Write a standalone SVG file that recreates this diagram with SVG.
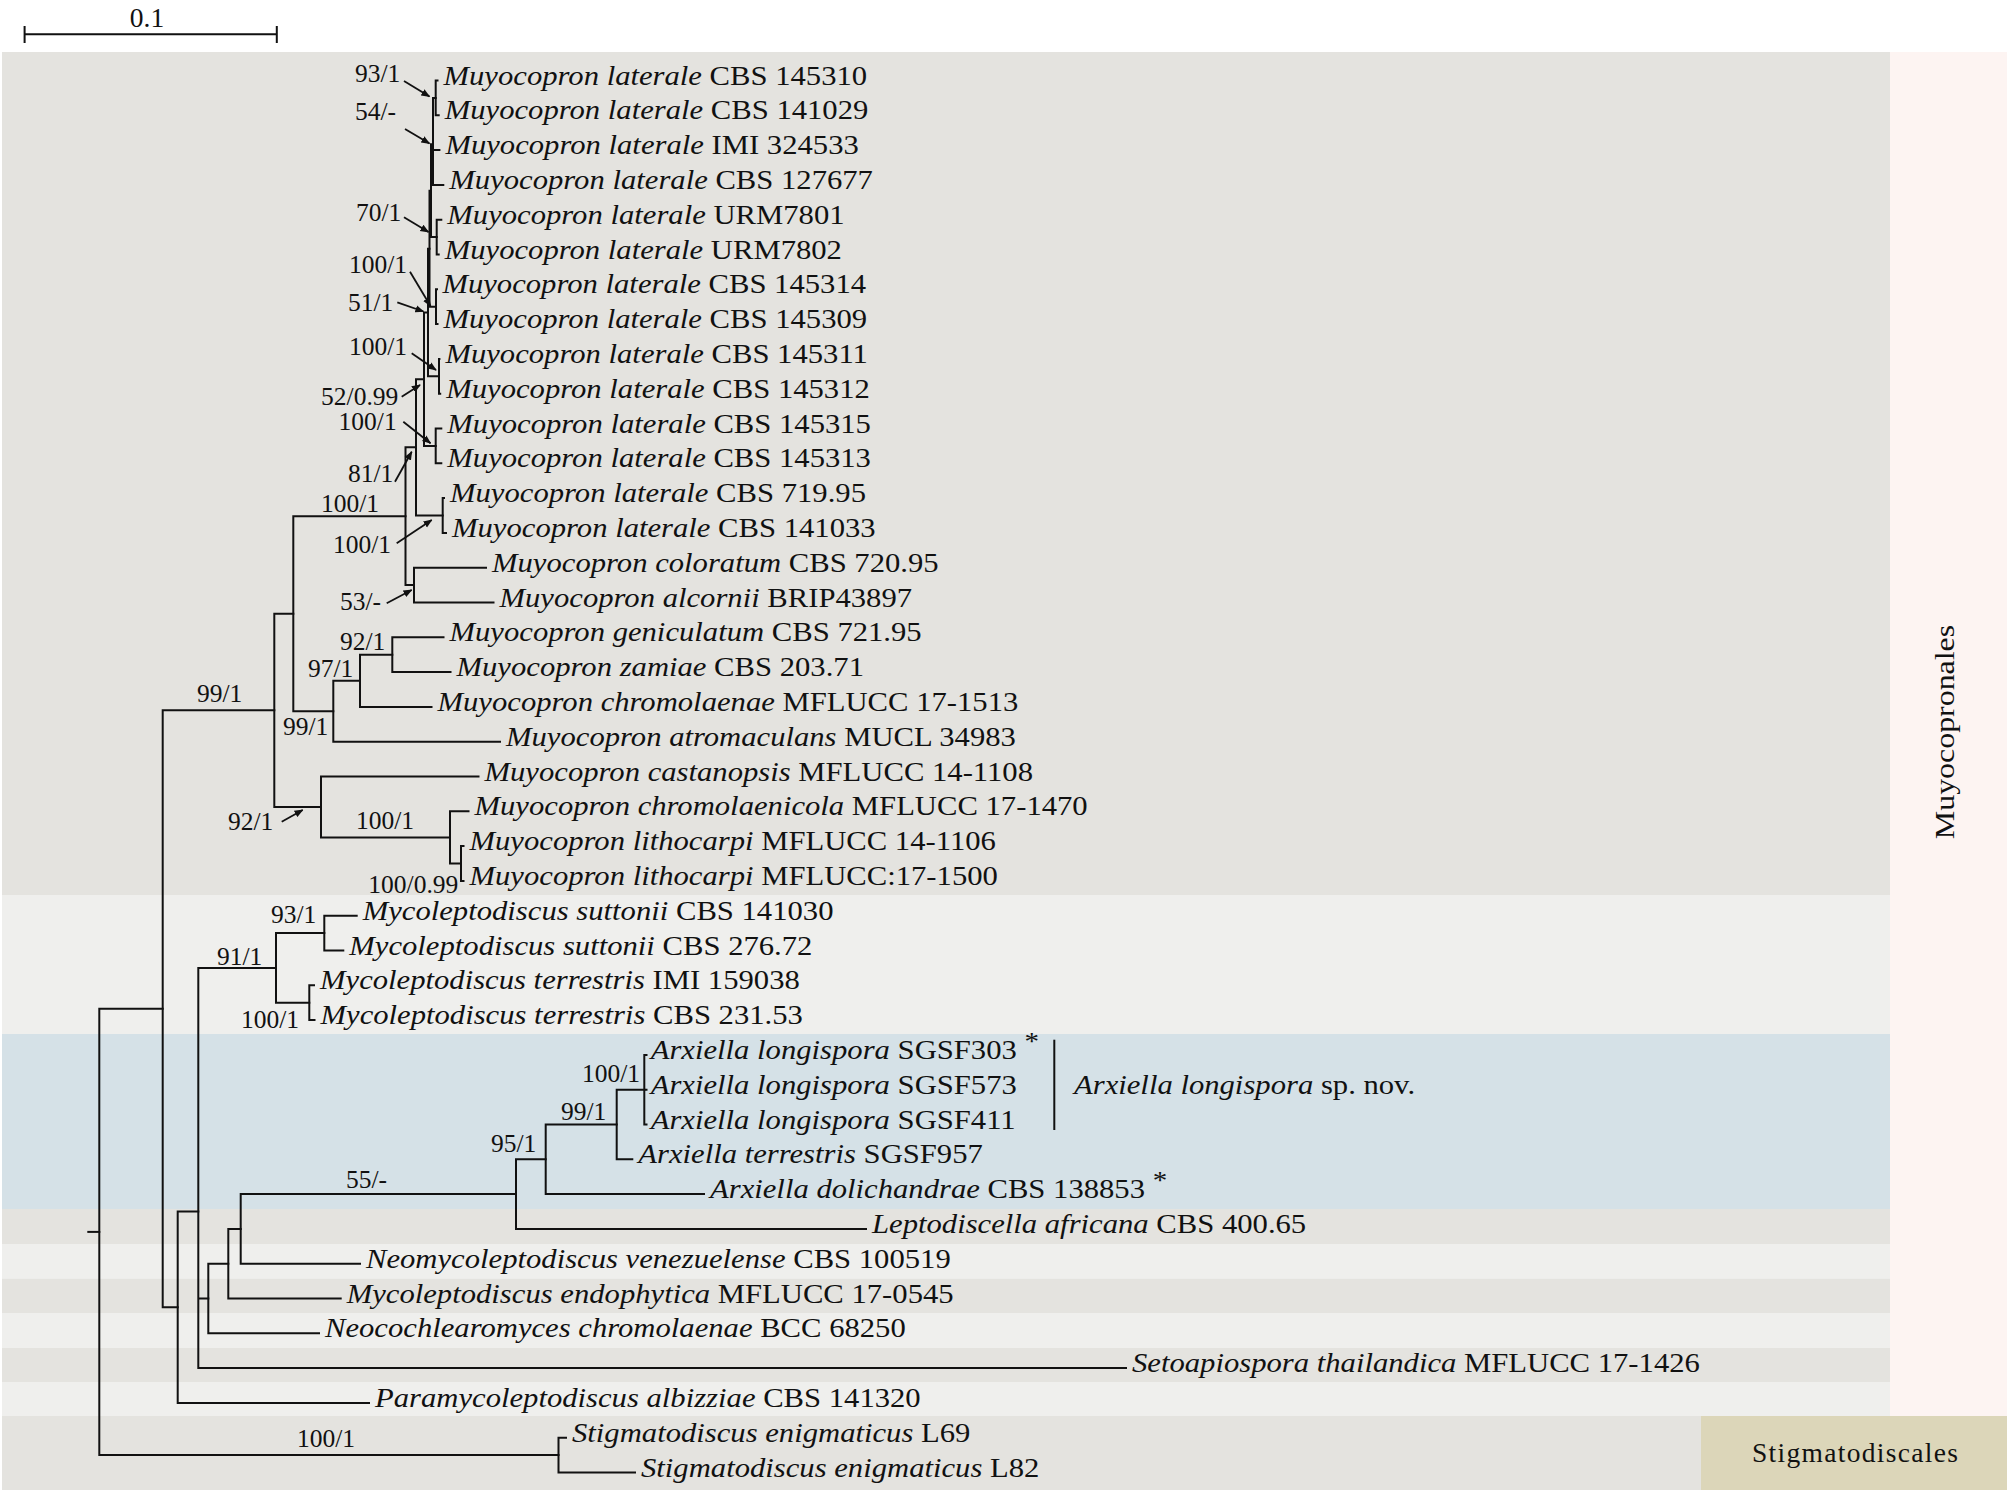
<svg xmlns="http://www.w3.org/2000/svg" width="2010" height="1493" viewBox="0 0 2010 1493">
<style>
.tx{font-family:"Liberation Serif","Times New Roman",serif;font-size:27.5px;fill:#111}
.i{font-style:italic}
.sv{font-family:"Liberation Serif","Times New Roman",serif;font-size:25.5px;fill:#111}
.br{fill:none;stroke:#111;stroke-width:2;stroke-linecap:square}
.ar{fill:none;stroke:#111;stroke-width:1.8;marker-end:url(#ah)}
.st{font-size:26px}
</style>
<defs>
<marker id="ah" viewBox="0 0 10 10" refX="9" refY="5" markerWidth="9" markerHeight="9" markerUnits="userSpaceOnUse" orient="auto">
<path d="M0,1 L10,5 L0,9 Z" fill="#111"/>
</marker>
</defs>
<rect width="2010" height="1493" fill="#ffffff"/>
<g id="bands">
<rect x="2" y="52" width="1888" height="843" fill="#e4e3df"/>
<rect x="2" y="895" width="1888" height="139" fill="#efefed"/>
<rect x="2" y="1034" width="1888" height="175" fill="#d5e1e7"/>
<rect x="2" y="1209" width="1888" height="35" fill="#e4e3df"/>
<rect x="2" y="1244" width="1888" height="34.5" fill="#efefed"/>
<rect x="2" y="1278.5" width="1888" height="34.5" fill="#e4e3df"/>
<rect x="2" y="1313" width="1888" height="35" fill="#efefed"/>
<rect x="2" y="1348" width="1888" height="34" fill="#e4e3df"/>
<rect x="2" y="1382" width="1888" height="34" fill="#efefed"/>
<rect x="2" y="1416" width="1699" height="74" fill="#e4e3df"/>
<rect x="1890" y="52" width="117" height="1364" fill="#fdf4f2"/>
</g>
<g id="order-muyocopronales">
<text class="tx" transform="translate(1954,732) rotate(-90) scale(1.16,1)" text-anchor="middle" font-size="28">Muyocopronales</text>
</g>
<g id="order-stigmatodiscales">
<rect x="1701" y="1416" width="306" height="74" fill="#dcd6b9"/>
<text class="tx" x="1752" y="1462" font-size="27" textLength="206" lengthAdjust="spacing">Stigmatodiscales</text>
</g>
<g id="scale-bar">
<path class="br" d="M24.6 34.3 H276.8 M24.6 27 V42 M276.8 27 V42"/>
<text class="tx" x="147" y="26.5" text-anchor="middle" font-size="27">0.1</text>
</g>
<g id="connectors">
<path class="br" d="M88.3 1231.9 H99.3"/>
<path class="br" d="M162.7 1008.75 H99.3 V1455.1 H558.5"/>
<path class="br" d="M274.3 710.3 H162.7 V1307.2 H177.7"/>
<path class="br" d="M293.3 613.7 H274.3 V806.95 H321"/>
<path class="br" d="M405.5 516.2 H293.3 V711.25 H333.3"/>
<path class="br" d="M416 447.35 H405.5 V585.1 H414"/>
<path class="br" d="M424 379.2 H416 V515.5 H442.7"/>
<path class="br" d="M428 312.5 H424 V445.9 H435.7"/>
<path class="br" d="M429.5 248.7 H428 V376.3 H439"/>
<path class="br" d="M431 190.7 H429.5 V306.7 H436"/>
<path class="br" d="M433 144.3 H431 V237.1 H436.7"/>
<path class="br" d="M435.7 97.9 H433 V184.9 H443.3 M433 150.1 H439.4"/>
<path class="br" d="M437.5 80.5 H435.7 V115.3 H438.7"/>
<path class="br" d="M441.3 219.7 H436.7 V254.5 H438.7"/>
<path class="br" d="M437 289.3 H436 V324.1 H437.5"/>
<path class="br" d="M439.4 358.9 H439 V393.7 H440.2"/>
<path class="br" d="M441.3 428.5 H435.7 V463.3 H441.3"/>
<path class="br" d="M444 498.1 H442.7 V532.9 H446"/>
<path class="br" d="M486 567.7 H414 V602.5 H493.5"/>
<path class="br" d="M360 680.8 H333.3 V741.7 H500"/>
<path class="br" d="M392.3 654.7 H360 V706.9 H431.5"/>
<path class="br" d="M443.5 637.3 H392.3 V672.1 H450.5"/>
<path class="br" d="M478.5 776.5 H321 V837.4 H450"/>
<path class="br" d="M468.5 811.3 H450 V863.5 H461"/>
<path class="br" d="M463.5 846.1 H461 V880.9 H463.5"/>
<path class="br" d="M198.3 1211.5 H177.7 V1402.9 H369"/>
<path class="br" d="M276 967.9 H198.3 V1368.1 H1126 M198.3 1298.5 H208.3"/>
<path class="br" d="M324.3 933.1 H276 V1002.7 H309.3"/>
<path class="br" d="M356.7 915.7 H324.3 V950.5 H343.3"/>
<path class="br" d="M314 985.3 H309.3 V1020.1 H314.5"/>
<path class="br" d="M228.3 1263.7 H208.3 V1333.3 H319"/>
<path class="br" d="M240.7 1228.9 H228.3 V1298.5 H340.7"/>
<path class="br" d="M516 1194.1 H240.7 V1263.7 H360"/>
<path class="br" d="M545.7 1159.3 H516 V1228.9 H866"/>
<path class="br" d="M616.7 1124.5 H545.7 V1194.1 H704"/>
<path class="br" d="M644.3 1089.7 H616.7 V1159.3 H632.3"/>
<path class="br" d="M646.5 1054.9 H644.3 V1124.5 H646.5 M644.3 1089.7 H646.5"/>
<path class="br" d="M566 1437.7 H558.5 V1472.5 H635"/>
<path class="br" d="M1054.3 1040.7 V1129"/>
<path class="ar" d="M404 81 L429.5 96.5"/>
<path class="ar" d="M405 129 L429.5 143.5"/>
<path class="ar" d="M404 217.3 L428.5 232"/>
<path class="ar" d="M410 271.7 L430.5 306"/>
<path class="ar" d="M397.3 302.3 L423.5 311.5"/>
<path class="ar" d="M411.7 353.3 L436 370"/>
<path class="ar" d="M401.7 396.7 L420 385"/>
<path class="ar" d="M403.3 421.7 L430.5 443.3"/>
<path class="ar" d="M395 481.7 L411.7 451.7"/>
<path class="ar" d="M396.7 543.3 L431.7 520"/>
<path class="ar" d="M386.7 603.3 L411.7 590"/>
<path class="ar" d="M281.7 821.7 L302.7 810"/>
</g>
<g id="support-values">
<text class="sv" x="355" y="82">93/1</text>
<text class="sv" x="355" y="120">54/-</text>
<text class="sv" x="356" y="221">70/1</text>
<text class="sv" x="349" y="273">100/1</text>
<text class="sv" x="348" y="311">51/1</text>
<text class="sv" x="349" y="355">100/1</text>
<text class="sv" x="398.3" y="405" text-anchor="end">52/0.99</text>
<text class="sv" x="396.7" y="430" text-anchor="end">100/1</text>
<text class="sv" x="348" y="482">81/1</text>
<text class="sv" x="321" y="512">100/1</text>
<text class="sv" x="333" y="553">100/1</text>
<text class="sv" x="340" y="610">53/-</text>
<text class="sv" x="340" y="650">92/1</text>
<text class="sv" x="308" y="677">97/1</text>
<text class="sv" x="197" y="702">99/1</text>
<text class="sv" x="283" y="735">99/1</text>
<text class="sv" x="228" y="830">92/1</text>
<text class="sv" x="356" y="829">100/1</text>
<text class="sv" x="458.3" y="893" text-anchor="end">100/0.99</text>
<text class="sv" x="271" y="923">93/1</text>
<text class="sv" x="217" y="965">91/1</text>
<text class="sv" x="241" y="1028">100/1</text>
<text class="sv" x="582" y="1082">100/1</text>
<text class="sv" x="561" y="1120">99/1</text>
<text class="sv" x="491" y="1152">95/1</text>
<text class="sv" x="346" y="1188">55/-</text>
<text class="sv" x="297" y="1447">100/1</text>
</g>
<g id="taxa">
<g id="t01"><text class="tx" transform="matrix(1.115 0 0 1 443.5 84.5)"><tspan class="i">Muyocopron laterale</tspan> CBS 145310</text></g>
<g id="t02"><text class="tx" transform="matrix(1.115 0 0 1 444.7 119.3)"><tspan class="i">Muyocopron laterale</tspan> CBS 141029</text></g>
<g id="t03"><text class="tx" transform="matrix(1.115 0 0 1 445.4 154.1)"><tspan class="i">Muyocopron laterale</tspan> IMI 324533</text></g>
<g id="t04"><text class="tx" transform="matrix(1.115 0 0 1 449.3 188.9)"><tspan class="i">Muyocopron laterale</tspan> CBS 127677</text></g>
<g id="t05"><text class="tx" transform="matrix(1.115 0 0 1 447.3 223.7)"><tspan class="i">Muyocopron laterale</tspan> URM7801</text></g>
<g id="t06"><text class="tx" transform="matrix(1.115 0 0 1 444.7 258.5)"><tspan class="i">Muyocopron laterale</tspan> URM7802</text></g>
<g id="t07"><text class="tx" transform="matrix(1.115 0 0 1 442.4 293.3)"><tspan class="i">Muyocopron laterale</tspan> CBS 145314</text></g>
<g id="t08"><text class="tx" transform="matrix(1.115 0 0 1 443.5 328.1)"><tspan class="i">Muyocopron laterale</tspan> CBS 145309</text></g>
<g id="t09"><text class="tx" transform="matrix(1.115 0 0 1 445.4 362.9)"><tspan class="i">Muyocopron laterale</tspan> CBS 145311</text></g>
<g id="t10"><text class="tx" transform="matrix(1.115 0 0 1 446.2 397.7)"><tspan class="i">Muyocopron laterale</tspan> CBS 145312</text></g>
<g id="t11"><text class="tx" transform="matrix(1.115 0 0 1 447.3 432.5)"><tspan class="i">Muyocopron laterale</tspan> CBS 145315</text></g>
<g id="t12"><text class="tx" transform="matrix(1.115 0 0 1 447.3 467.3)"><tspan class="i">Muyocopron laterale</tspan> CBS 145313</text></g>
<g id="t13"><text class="tx" transform="matrix(1.115 0 0 1 450 502.1)"><tspan class="i">Muyocopron laterale</tspan> CBS 719.95</text></g>
<g id="t14"><text class="tx" transform="matrix(1.115 0 0 1 452 536.9)"><tspan class="i">Muyocopron laterale</tspan> CBS 141033</text></g>
<g id="t15"><text class="tx" transform="matrix(1.115 0 0 1 492 571.7)"><tspan class="i">Muyocopron coloratum</tspan> CBS 720.95</text></g>
<g id="t16"><text class="tx" transform="matrix(1.115 0 0 1 499.5 606.5)"><tspan class="i">Muyocopron alcornii</tspan> BRIP43897</text></g>
<g id="t17"><text class="tx" transform="matrix(1.115 0 0 1 449.5 641.3)"><tspan class="i">Muyocopron geniculatum</tspan> CBS 721.95</text></g>
<g id="t18"><text class="tx" transform="matrix(1.115 0 0 1 456.5 676.1)"><tspan class="i">Muyocopron zamiae</tspan> CBS 203.71</text></g>
<g id="t19"><text class="tx" transform="matrix(1.115 0 0 1 437.5 710.9)"><tspan class="i">Muyocopron chromolaenae</tspan> MFLUCC 17-1513</text></g>
<g id="t20"><text class="tx" transform="matrix(1.115 0 0 1 506 745.7)"><tspan class="i">Muyocopron atromaculans</tspan> MUCL 34983</text></g>
<g id="t21"><text class="tx" transform="matrix(1.115 0 0 1 484.5 780.5)"><tspan class="i">Muyocopron castanopsis</tspan> MFLUCC 14-1108</text></g>
<g id="t22"><text class="tx" transform="matrix(1.115 0 0 1 474.5 815.3)"><tspan class="i">Muyocopron chromolaenicola</tspan> MFLUCC 17-1470</text></g>
<g id="t23"><text class="tx" transform="matrix(1.115 0 0 1 469.5 850.1)"><tspan class="i">Muyocopron lithocarpi</tspan> MFLUCC 14-1106</text></g>
<g id="t24"><text class="tx" transform="matrix(1.115 0 0 1 469.5 884.9)"><tspan class="i">Muyocopron lithocarpi</tspan> MFLUCC:17-1500</text></g>
<g id="t25"><text class="tx" transform="matrix(1.115 0 0 1 362.7 919.7)"><tspan class="i">Mycoleptodiscus suttonii</tspan> CBS 141030</text></g>
<g id="t26"><text class="tx" transform="matrix(1.115 0 0 1 349.3 954.5)"><tspan class="i">Mycoleptodiscus suttonii</tspan> CBS 276.72</text></g>
<g id="t27"><text class="tx" transform="matrix(1.115 0 0 1 320 989.3)"><tspan class="i">Mycoleptodiscus terrestris</tspan> IMI 159038</text></g>
<g id="t28"><text class="tx" transform="matrix(1.115 0 0 1 320.5 1024.1)"><tspan class="i">Mycoleptodiscus terrestris</tspan> CBS 231.53</text></g>
<g id="t29"><text class="tx" transform="matrix(1.115 0 0 1 650.7 1058.9)"><tspan class="i">Arxiella longispora</tspan> SGSF303 <tspan class="st" dy="-9">*</tspan></text></g>
<g id="t30"><text class="tx" transform="matrix(1.115 0 0 1 650.7 1093.7)"><tspan class="i">Arxiella longispora</tspan> SGSF573</text></g>
<g id="t31"><text class="tx" transform="matrix(1.115 0 0 1 650.7 1128.5)"><tspan class="i">Arxiella longispora</tspan> SGSF411</text></g>
<g id="t32"><text class="tx" transform="matrix(1.115 0 0 1 638.3 1163.3)"><tspan class="i">Arxiella terrestris</tspan> SGSF957</text></g>
<g id="t33"><text class="tx" transform="matrix(1.115 0 0 1 710 1198.1)"><tspan class="i">Arxiella dolichandrae</tspan> CBS 138853 <tspan class="st" dy="-9">*</tspan></text></g>
<g id="t34"><text class="tx" transform="matrix(1.115 0 0 1 872 1232.9)"><tspan class="i">Leptodiscella africana</tspan> CBS 400.65</text></g>
<g id="t35"><text class="tx" transform="matrix(1.115 0 0 1 366 1267.7)"><tspan class="i">Neomycoleptodiscus venezuelense</tspan> CBS 100519</text></g>
<g id="t36"><text class="tx" transform="matrix(1.115 0 0 1 346.7 1302.5)"><tspan class="i">Mycoleptodiscus endophytica</tspan> MFLUCC 17-0545</text></g>
<g id="t37"><text class="tx" transform="matrix(1.115 0 0 1 325 1337.3)"><tspan class="i">Neocochlearomyces chromolaenae</tspan> BCC 68250</text></g>
<g id="t38"><text class="tx" transform="matrix(1.115 0 0 1 1132 1372.1)"><tspan class="i">Setoapiospora thailandica</tspan> MFLUCC 17-1426</text></g>
<g id="t39"><text class="tx" transform="matrix(1.115 0 0 1 375 1406.9)"><tspan class="i">Paramycoleptodiscus albizziae</tspan> CBS 141320</text></g>
<g id="t40"><text class="tx" transform="matrix(1.115 0 0 1 572 1441.7)"><tspan class="i">Stigmatodiscus enigmaticus</tspan> L69</text></g>
<g id="t41"><text class="tx" transform="matrix(1.115 0 0 1 641 1476.5)"><tspan class="i">Stigmatodiscus enigmaticus</tspan> L82</text></g>
<g id="species-label"><text class="tx" transform="matrix(1.115 0 0 1 1074 1094)"><tspan class="i">Arxiella longispora</tspan> sp. nov.</text></g>
</g>
</svg>
